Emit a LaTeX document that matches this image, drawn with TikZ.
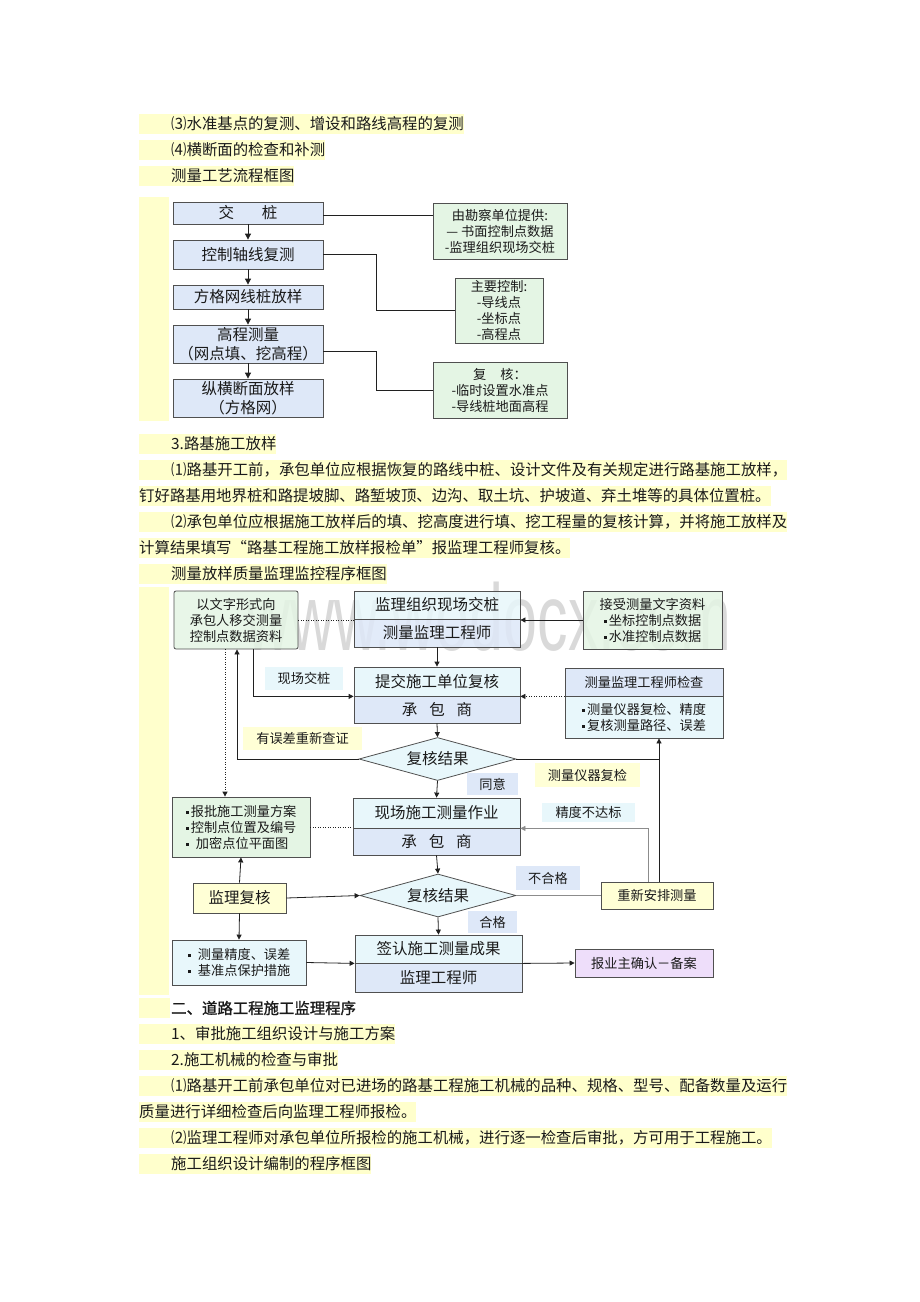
\documentclass[tikz,border=0pt]{standalone}
\usepackage{fontspec}
\setmainfont{Noto Sans CJK SC}
\newfontfamily\headfont[FakeBold=1.2]{Noto Sans CJK SC}
\newfontfamily\wmfont{Liberation Sans}
\usetikzlibrary{shapes.geometric,arrows.meta}
\definecolor{hlc}{HTML}{FFFFCC}
\definecolor{bluef}{HTML}{DEE8F8}
\definecolor{cyanf}{HTML}{E8F7FB}
\definecolor{greenf}{HTML}{E4F5E4}
\definecolor{yellowf}{HTML}{FFFFD6}
\definecolor{purplef}{HTML}{EEDEFA}
\definecolor{edge}{HTML}{505050}
\definecolor{ink}{HTML}{1A1A1A}
\definecolor{wire}{HTML}{202020}
\definecolor{wiregray}{HTML}{8C8C8C}
\newcommand\sqb{\rule[2.5pt]{3pt}{3pt}\,}
\newcommand\ind{\hspace*{32pt}}
\tikzset{
 body/.style={anchor=west, inner xsep=0pt, inner ysep=0pt, minimum height=20pt, text=ink, font=\fontsize{15.4}{18}\selectfont},
 hlline/.style={body, fill=hlc},
 bx/.style={draw=edge, line width=0.8pt, inner sep=0pt, text=ink, align=center},
 big/.style={font=\fontsize{15.5}{19}\selectfont},
 small/.style={font=\fontsize{13.2}{16}\selectfont},
 arr/.style={draw=wire, line width=0.8pt, -{Triangle[length=6pt,width=6pt]}},
 sarr/.style={draw=wire, line width=0.8pt, -{Triangle[length=5pt,width=5pt]}},
 ln/.style={draw=wire, line width=0.8pt},
 dot/.style={draw=wire, line width=0.8pt, dash pattern=on 1pt off 1.5pt},
 lab/.style={inner sep=0pt, text=ink, font=\fontsize{13.2}{16}\selectfont},
 dia/.style={draw=edge, line width=0.8pt, diamond, aspect=3.6, inner sep=0pt, fill=cyanf, text=ink, font=\fontsize{15.5}{19}\selectfont},
}
\begin{document}
\begin{tikzpicture}[x=1pt,y=-1pt]
\useasboundingbox (0,0) rectangle (920,1302);
\fill[white] (0,0) rectangle (920,1302);

% ---------- body text, top ----------
\node[hlline] (p1) at (139,124) {\ind ⑶水准基点的复测、增设和路线高程的复测};
\node[hlline] (p2) at (139,150) {\ind ⑷横断面的检查和补测};
\node[hlline] (p3) at (139,176) {\ind 测量工艺流程框图};
\fill[hlc] (139,197) rectangle (169,421);

% ---------- flowchart 1 ----------
\node[bx, big, fill=bluef, minimum width=150, minimum height=22] (jz) at (248,213) {交\hspace{28pt}桩};
\node[bx, big, fill=bluef, minimum width=150, minimum height=29] (kz) at (248,254.5) {控制轴线复测};
\node[bx, big, fill=bluef, minimum width=150, minimum height=24] (fg) at (248,297) {方格网线桩放样};
\node[bx, big, fill=bluef, minimum width=150, minimum height=38] (gc) at (248,344) {高程测量\\（网点填、挖高程）};
\node[bx, big, fill=bluef, minimum width=150, minimum height=38] (zh) at (248,398) {纵横断面放样\\（方格网）};

\node[bx, small, fill=greenf, minimum width=134, minimum height=56] (r1) at (500,231) {由勘察单位提供:\\— 书面控制点数据\\-监理组织现场交桩};
\node[bx, small, fill=greenf, minimum width=88, minimum height=65] (r2) at (499,310.5) {主要控制:\\-导线点\\-坐标点\\-高程点};
\node[bx, small, fill=greenf, minimum width=134, minimum height=56] (r3) at (500,390) {复\hspace{14pt}核：\\-临时设置水准点\\-导线桩地面高程};

\draw[arr] (jz.south) -- (kz.north);
\draw[arr] (kz.south) -- (fg.north);
\draw[arr] (fg.south) -- (gc.north);
\draw[arr] (gc.south) -- (zh.north);
\draw[ln] ([yshift=-2pt]jz.east) -- ([yshift=-2pt]jz.east -| r1.west);
\draw[ln] (kz.east) -- ++(53,0) |- (r2.west);
\draw[ln] ([yshift=-7pt]gc.east) -- ++(53,0) |- (r3.west);

% ---------- body text, middle ----------
\node[hlline] (p4) at (139,444) {\ind 3.路基施工放样};
\node[hlline] (p5) at (139,470) {\ind ⑴路基开工前，承包单位应根据恢复的路线中桩、设计文件及有关规定进行路基施工放样，};
\node[hlline] (p6) at (139,496) {钉好路基用地界桩和路提坡脚、路堑坡顶、边沟、取土坑、护坡道、弃土堆等的具体位置桩。};
\node[hlline] (p7) at (139,522) {\ind ⑵承包单位应根据施工放样后的填、挖高度进行填、挖工程量的复核计算，并将施工放样及};
\node[hlline] (p8) at (139,548) {计算结果填写“路基工程施工放样报检单”报监理工程师复核。};
\node[hlline] (p9) at (139,574) {\ind 测量放样质量监理监控程序框图};
\fill[hlc] (139,587) rectangle (169,995);

% watermark (drawn under the boxes' borders but visible)
\node[anchor=base west, inner sep=0pt, text=black, text opacity=0.15] (wm) at (246,650) {\scalebox{1}[1.55]{\wmfont\fontsize{61}{61}\selectfont www.wodocx.com}};

% ---------- flowchart 2 ----------
\node[bx, small, fill=greenf, fill opacity=0.85, text opacity=1, rounded corners=2pt, minimum width=124, minimum height=58] (A) at (236,620) {以文字形式向\\承包人移交测量\\控制点数据资料};
\node[bx, big, fill=cyanf, fill opacity=0.85, text opacity=1, minimum width=166, minimum height=28] (Bt) at (437,605) {监理组织现场交桩};
\node[bx, big, fill=bluef, fill opacity=0.85, text opacity=1, minimum width=166, minimum height=28] (Bb) at (437,633) {测量监理工程师};
\node[bx, small, fill=greenf, fill opacity=0.85, text opacity=1, minimum width=139, minimum height=58] (C) at (652.5,620) {接受测量文字资料\\\sqb 坐标控制点数据\\\sqb 水准控制点数据};

\node[bx, big, fill=cyanf, minimum width=166, minimum height=29] (Dt) at (437,681.5) {提交施工单位复核};
\node[bx, big, fill=bluef, minimum width=166, minimum height=27] (Db) at (437,709.5) {承\hspace{12pt}包\hspace{12pt}商};
\node[bx, small, fill=bluef, minimum width=158, minimum height=28] (Et) at (644,682) {测量监理工程师检查};
\node[bx, small, fill=cyanf, minimum width=158, minimum height=42, align=left] (Eb) at (644,717) {\sqb 测量仪器复检、精度\\\sqb 复核测量路径、误差};

\node[dia, minimum width=157, minimum height=43] (F) at (437.5,759) {复核结果};

\node[bx, small, fill=greenf, minimum width=138, minimum height=60, align=left] (G) at (241,827) {\sqb 报批施工测量方案\\\sqb 控制点位置及编号\\\sqb\, 加密点位平面图};
\node[bx, big, fill=cyanf, minimum width=167, minimum height=30] (Ht) at (436.5,813) {现场施工测量作业};
\node[bx, big, fill=bluef, minimum width=167, minimum height=27] (Hb) at (436.5,841.5) {承\hspace{12pt}包\hspace{12pt}商};

\node[bx, big, fill=yellowf, minimum width=93, minimum height=30] (I) at (239.5,898) {监理复核};
\node[dia, minimum width=156, minimum height=43] (K) at (438,895.5) {复核结果};
\node[bx, small, fill=yellowf, minimum width=112, minimum height=27] (N) at (657,895.5) {重新安排测量};

\node[bx, small, fill=cyanf, minimum width=134, minimum height=45, align=left] (J) at (239,962.5) {\sqb\, 测量精度、误差\\\sqb\, 基准点保护措施};
\node[bx, big, fill=cyanf, minimum width=167, minimum height=28] (Lt) at (438.5,949) {签认施工测量成果};
\node[bx, big, fill=bluef, minimum width=167, minimum height=29] (Lb) at (438.5,977.5) {监理工程师};
\node[bx, small, fill=purplef, minimum width=138, minimum height=28] (M) at (644,963) {报业主确认－备案};

% labels
\node[lab, fill=cyanf, minimum width=78, minimum height=23] (l1) at (304,678.5) {现场交桩};
\node[lab, fill=yellowf, minimum width=119, minimum height=23] (l2) at (302.5,738.5) {有误差重新查证};
\node[lab, fill=yellowf, minimum width=105, minimum height=24] (l3) at (587.5,775) {测量仪器复检};
\node[lab, fill=bluef, minimum width=51, minimum height=22] (l4) at (492.5,784) {同意};
\node[lab, fill=cyanf, minimum width=93, minimum height=19] (l5) at (588.5,812.5) {精度不达标};
\node[lab, fill=bluef, minimum width=64, minimum height=24] (l6) at (548,878) {不合格};
\node[lab, fill=bluef, minimum width=49, minimum height=22] (l7) at (492.5,922) {合格};

% connectors
\draw[sarr] (C.west) -- (C.west -| Bb.east);
\draw[dot] (A.east) -- (A.east -| Bt.west);
\draw[sarr] (Bb.south) -- (Dt.north);
\draw[dot, -{Triangle[length=5pt,width=5pt]}] (Et.south west) -- (Dt.south east);
\draw[sarr] ([xshift=17pt]A.south) |- (Dt.south west);
\draw[sarr] (Db.south) -- (F.north);
\draw[sarr] (F.west) -| ([xshift=1pt]A.south);
\draw[dot, -{Triangle[length=5pt,width=5pt]}] ([xshift=-11pt]A.south) -- ([xshift=-11pt]A.south |- G.north);
\coordinate (nup) at ([xshift=2pt]N.north);
\draw[ln] (F.east) -- (F.east -| nup);
\draw[sarr] (nup) -- (nup |- Eb.south);
\draw[sarr] (F.south) -- (Ht.north);
\draw[dot] (G.east) -- (G.east -| Ht.west);
\draw[draw=wiregray, line width=0.8pt, -{Triangle[length=5pt,width=5pt]}] ([xshift=-9pt]N.north) |- (Ht.south east);
\draw[sarr] (I.north) -- (G.south);
\draw[sarr] (I.south) -- (J.north);
\draw[sarr] (I.east) -- (K.west);
\draw[sarr] (Hb.south) -- (K.north);
\draw[sarr] (K.south) -- (Lt.north);
\draw[draw=wiregray, line width=0.8pt] (K.east) -- (N.west);
\draw[sarr] (J.east) -- (Lt.south west);
\draw[sarr] (Lt.south east) -- (M.west);

% ---------- body text, bottom ----------
\fill[hlc] (139,998) rectangle (170,1018);
\node[body, font=\headfont\fontsize{15.4}{18}\selectfont] (q1) at (171,1008) {二、道路工程施工监理程序};
\node[hlline] (q2) at (139,1034) {\ind 1、审批施工组织设计与施工方案};
\node[hlline] (q3) at (139,1060) {\ind 2.施工机械的检查与审批};
\node[hlline] (q4) at (139,1086) {\ind ⑴路基开工前承包单位对已进场的路基工程施工机械的品种、规格、型号、配备数量及运行};
\node[hlline] (q5) at (139,1112) {质量进行详细检查后向监理工程师报检。};
\node[hlline] (q6) at (139,1138) {\ind ⑵监理工程师对承包单位所报检的施工机械，进行逐一检查后审批，方可用于工程施工。};
\node[hlline] (q7) at (139,1164) {\ind 施工组织设计编制的程序框图};
\end{tikzpicture}
\end{document}
